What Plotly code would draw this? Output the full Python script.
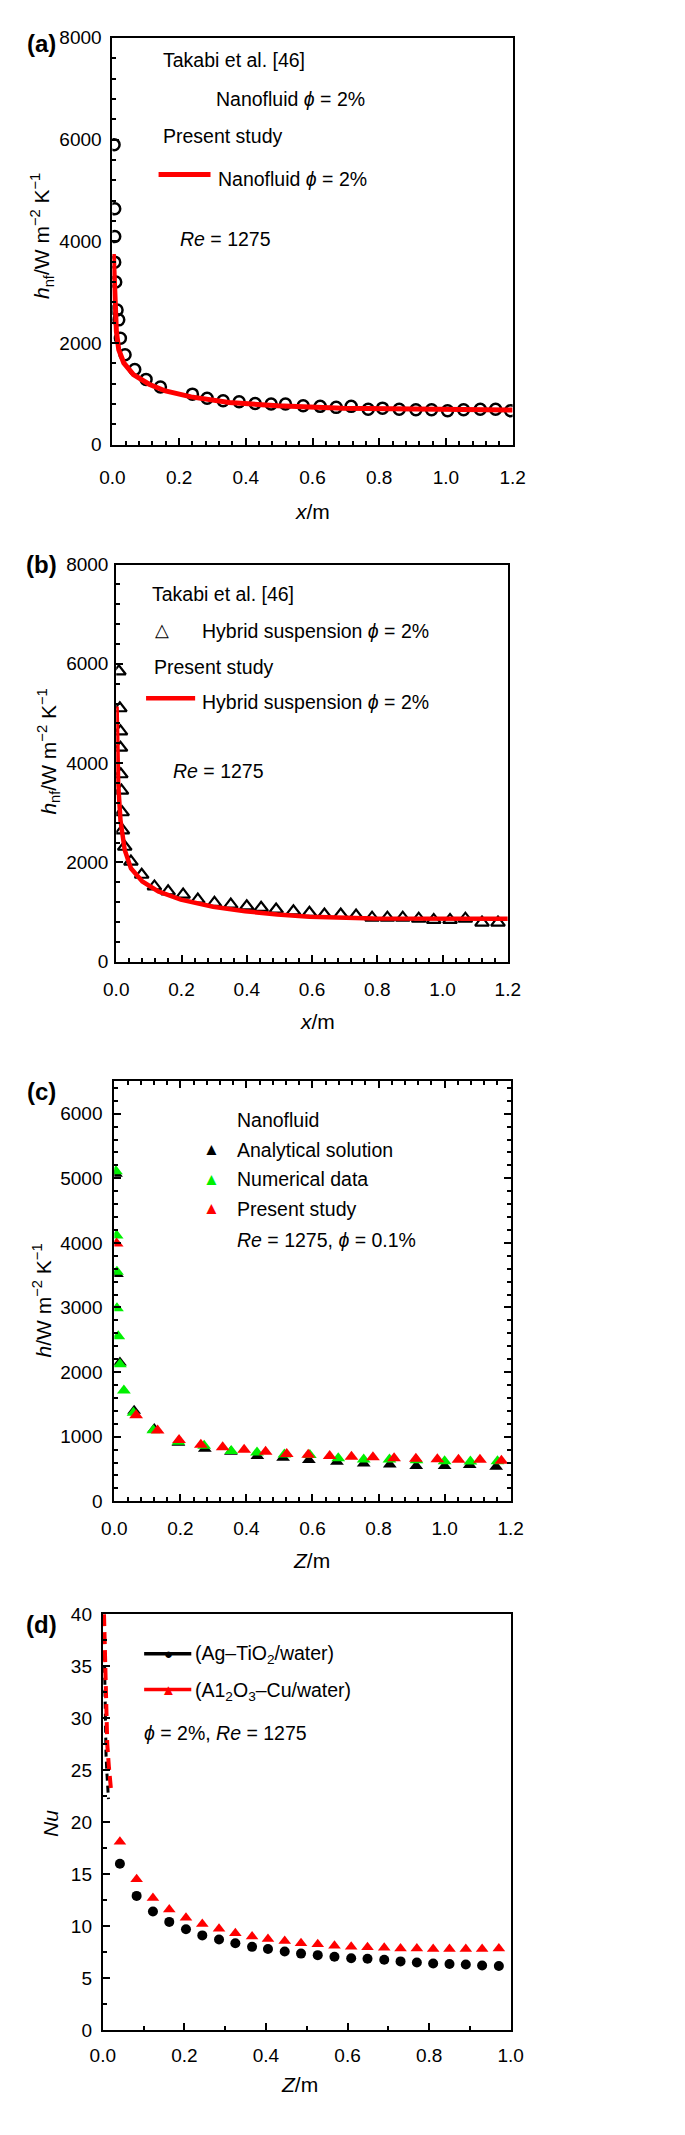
import plotly.graph_objects as go

W, H = 685, 2135
FONT = "Liberation Sans, Arial, sans-serif"
RED = "#ff0000"
GREEN = "#00f000"

# ---------- (a) nanofluid, phi = 2 % ----------
a_ref_x = [0.005, 0.007, 0.007, 0.007, 0.010, 0.014, 0.019, 0.024, 0.038, 0.067,
           0.101, 0.144, 0.240, 0.284, 0.332, 0.380, 0.428, 0.476, 0.519, 0.572,
           0.623, 0.671, 0.716, 0.767, 0.810, 0.860, 0.910, 0.957, 1.005, 1.053,
           1.103, 1.149, 1.194]
a_ref_y = [5900, 4640, 4095, 3590, 3200, 2650, 2455, 2095, 1770, 1480,
           1285, 1135, 995, 915, 865, 845, 810, 800, 800, 765,
           755, 735, 755, 700, 720, 700, 690, 690, 670, 690,
           700, 700, 670]
a_cur_x = [0.003, 0.005, 0.007, 0.012, 0.019, 0.034, 0.063, 0.110, 0.159, 0.236,
           0.350, 0.495, 0.690, 0.880, 1.200]
a_cur_y = [3750, 3200, 2680, 2225, 1870, 1610, 1380, 1190, 1058, 941,
           831, 766, 720, 701, 681]

# ---------- (b) hybrid suspension, phi = 2 % ----------
b_ref_x = [0.008, 0.011, 0.013, 0.013, 0.014, 0.016, 0.018, 0.019, 0.026, 0.045,
           0.078, 0.117, 0.159, 0.205, 0.250, 0.301, 0.351, 0.400, 0.444, 0.490,
           0.543, 0.592, 0.638, 0.688, 0.735, 0.784, 0.831, 0.878, 0.927, 0.973,
           1.023, 1.070, 1.121, 1.170]
b_ref_y = [5850, 5105, 4640, 4310, 3775, 3445, 3010, 2645, 2315, 2015,
           1750, 1515, 1415, 1350, 1250, 1185, 1150, 1115, 1085, 1050,
           1015, 985, 950, 950, 930, 885, 885, 885, 865, 840,
           840, 865, 785, 785]
b_cur_x = [0.001, 0.003, 0.006, 0.013, 0.026, 0.045, 0.080, 0.129, 0.198, 0.297,
           0.395, 0.494, 0.592, 0.789, 0.986, 1.200]
b_cur_y = [5140, 4375, 3580, 2845, 2250, 1880, 1615, 1415, 1250, 1105,
           1015, 950, 905, 870, 865, 865]

# ---------- (c) analytical / numerical / present, phi = 0.1 % ----------
c_ana_x = [0.005, 0.008, 0.017, 0.060, 0.121, 0.194, 0.274, 0.353, 0.433, 0.511,
           0.589, 0.674, 0.755, 0.834, 0.914, 1.000, 1.076, 1.156]
c_ana_y = [5070, 3520, 2150, 1400, 1120, 905, 815, 765, 700, 675,
           640, 610, 585, 570, 545, 545, 560, 535]
c_num_x = [0.005, 0.007, 0.008, 0.008, 0.012, 0.017, 0.029, 0.058, 0.118, 0.194,
           0.272, 0.354, 0.432, 0.515, 0.592, 0.678, 0.755, 0.833, 0.915, 1.000,
           1.078, 1.160]
c_num_y = [5110, 4115, 3555, 2990, 2555, 2120, 1715, 1370, 1100, 920,
           860, 780, 755, 725, 715, 665, 645, 645, 635, 620,
           615, 618]
c_pre_x = [0.007, 0.066, 0.131, 0.196, 0.262, 0.328, 0.393, 0.458, 0.522, 0.587,
           0.652, 0.718, 0.783, 0.847, 0.913, 0.978, 1.042, 1.107, 1.172]
c_pre_y = [3990, 1330, 1095, 950, 875, 838, 798, 767, 731, 720,
           700, 690, 680, 665, 660, 649, 644, 644, 629]

# ---------- (d) Nusselt number ----------
d_ag_x0 = [0.004, 0.005, 0.006, 0.008, 0.010, 0.014]
d_ag_y0 = [36.2, 33.0, 30.0, 26.5, 24.8, 22.2]
d_al_x0 = [0.003, 0.006, 0.009, 0.011, 0.015, 0.020]
d_al_y0 = [40.0, 33.5, 29.5, 27.5, 25.3, 23.2]
d_x = [0.042, 0.083, 0.123, 0.163, 0.204, 0.244, 0.285, 0.325, 0.366, 0.405,
       0.446, 0.486, 0.527, 0.568, 0.609, 0.649, 0.690, 0.730, 0.770, 0.810,
       0.850, 0.890, 0.930, 0.971]
d_ag_y = [16.0, 12.9, 11.4, 10.4, 9.7, 9.1, 8.7, 8.35, 8.0, 7.8,
          7.55, 7.35, 7.2, 7.05, 6.9, 6.85, 6.75, 6.6, 6.5, 6.4,
          6.35, 6.3, 6.2, 6.15]
d_al_y = [18.1, 14.5, 12.7, 11.6, 10.8, 10.2, 9.75, 9.3, 9.0, 8.75,
          8.55, 8.35, 8.25, 8.1, 8.0, 7.95, 7.9, 7.85, 7.85, 7.8,
          7.8, 7.8, 7.8, 7.85]


def px(x):
    return x / W


def py(y):
    return 1 - y / H


fig = go.Figure()

# (a)
fig.add_trace(go.Scatter(x=a_ref_x, y=a_ref_y, mode="markers", xaxis="x", yaxis="y",
                         marker=dict(symbol="circle-open", size=11, color="black",
                                     line=dict(width=2.5, color="black"))))
fig.add_trace(go.Scatter(x=a_cur_x, y=a_cur_y, mode="lines", xaxis="x", yaxis="y",
                         line=dict(color=RED, width=5)))

# (b)
fig.add_trace(go.Scatter(x=b_ref_x, y=b_ref_y, mode="markers", xaxis="x2", yaxis="y2",
                         marker=dict(symbol="triangle-up-open", size=12, color="black",
                                     line=dict(width=2.2, color="black"))))
fig.add_trace(go.Scatter(x=b_cur_x, y=b_cur_y, mode="lines", xaxis="x2", yaxis="y2",
                         line=dict(color=RED, width=4.5)))

# (c)
for xs, ys, col in [(c_ana_x, c_ana_y, "black"), (c_num_x, c_num_y, GREEN),
                    (c_pre_x, c_pre_y, RED)]:
    fig.add_trace(go.Scatter(x=xs, y=ys, mode="markers", xaxis="x3", yaxis="y3",
                             marker=dict(symbol="triangle-up", size=12, color=col)))

# (d)
fig.add_trace(go.Scatter(x=d_ag_x0, y=d_ag_y0, mode="lines", xaxis="x4", yaxis="y4",
                         line=dict(color="black", width=3, dash="7px,5px")))
fig.add_trace(go.Scatter(x=d_al_x0, y=d_al_y0, mode="lines", xaxis="x4", yaxis="y4",
                         line=dict(color=RED, width=4, dash="12px,6px")))
fig.add_trace(go.Scatter(x=d_x, y=d_ag_y, mode="markers", xaxis="x4", yaxis="y4",
                         marker=dict(symbol="circle", size=10, color="black")))
fig.add_trace(go.Scatter(x=d_x, y=d_al_y, mode="markers", xaxis="x4", yaxis="y4",
                         marker=dict(symbol="triangle-up", size=11, color=RED)))


def axis(dom, rng, dtick, minor, standoff, fmt=None, mirror=True):
    d = dict(domain=dom, range=rng, dtick=dtick, tick0=0, ticks="inside", ticklen=7,
             tickwidth=1.5, tickcolor="black", showline=True, linecolor="black",
             linewidth=2, mirror=mirror, showgrid=False, zeroline=False,
             ticklabelstandoff=standoff,
             tickfont=dict(family=FONT, size=19, color="black"),
             minor=dict(dtick=minor, ticks="inside", ticklen=4, tickwidth=1.5,
                        tickcolor="black", showgrid=False))
    if fmt:
        d["tickformat"] = fmt
    return d


panels = [
    # x px, y px, x range, y range, y dtick, y minor, x dtick, x minor, mirror, x/y label gaps
    ((95, 511), (20, 431), [0, 1.2], [0, 8000], 2000, 400, 0.2, 0.04, True, 14, 5),
    ((99, 506), (552, 953), [0, 1.2], [0, 8000], 2000, 400, 0.2, 0.04, True, 10, 2),
    ((97, 509), (1074, 1498), [0, 1.2], [0, 6500], 1000, 200, 0.2, 0.04, "ticks", 9, 6),
    ((85, 509), (1612, 2032), [0, 1.0], [0, 40], 5, 2.5, 0.2, 0.1, True, 7, 5),
]
layout_axes = {}
for i, (xp, yp, xr, yr, ydt, ymn, xdt, xmn, mir, xso, yso) in enumerate(panels):
    s = "" if i == 0 else str(i + 1)
    xa = axis([px(xp[0]), px(xp[1])], xr, xdt, xmn, xso, ".1f", mir)
    xa["anchor"] = "y" + s
    ya = axis([py(yp[1]), py(yp[0])], yr, ydt, ymn, yso, None, mir)
    ya["anchor"] = "x" + s
    layout_axes["xaxis" + s] = xa
    layout_axes["yaxis" + s] = ya

ann = []


def text(t, x, y, size=19.5, xanchor="left", angle=0, color="black"):
    ann.append(dict(text=t, x=px(x), y=py(y), xref="paper", yref="paper",
                    xanchor=xanchor, yanchor="middle", showarrow=False, textangle=angle,
                    font=dict(family=FONT, size=size, color=color)))


# panel letters
for lab, y in [("(a)", 26), ("(b)", 552), ("(c)", 1084), ("(d)", 1622)]:
    text("<b>%s</b>" % lab, 21, y, size=24, xanchor="center")

# axis titles
text("<i>h</i><sub>nf</sub>/W m<sup>−2</sup> K<sup>−1</sup>", 22, 220, size=21, xanchor="center", angle=-90)
text("<i>h</i><sub>nf</sub>/W m<sup>−2</sup> K<sup>−1</sup>", 29, 741, size=21, xanchor="center", angle=-90)
text("<i>h</i>/W m<sup>−2</sup> K<sup>−1</sup>", 22, 1295, size=21, xanchor="center", angle=-90)
text("<i>Nu</i>", 30, 1823, size=21, xanchor="center", angle=-90)
text("<i>x</i>/m", 303, 498, size=21, xanchor="center")
text("<i>x</i>/m", 308, 1013, size=21, xanchor="center")
text("<i>Z</i>/m", 302, 1558, size=21, xanchor="center")
text("<i>Z</i>/m", 290, 2087, size=21, xanchor="center")

# (a) legend
text("Takabi et al. [46]", 146, 42)
text("Nanofluid <i>ϕ</i> = 2%", 201, 82)
text("Present study", 146, 119)
text("Nanofluid <i>ϕ</i> = 2%", 203, 163)
text("<i>Re</i> = 1275", 163, 223)

# (b) legend
text("Takabi et al. [46]", 134, 582)
text("△", 147, 618, size=18, xanchor="center")
text("Hybrid suspension <i>ϕ</i> = 2%", 186, 619)
text("Present study", 136, 655)
text("Hybrid suspension <i>ϕ</i> = 2%", 186, 691)
text("<i>Re</i> = 1275", 156, 760)

# (c) legend
text("Nanofluid", 222, 1113)
text("▲", 198, 1143, size=17, xanchor="center")
text("Analytical solution", 222, 1143)
text("▲", 198, 1173, size=17, xanchor="center", color=GREEN)
text("Numerical data", 222, 1173)
text("▲", 198, 1202, size=17, xanchor="center", color=RED)
text("Present study", 222, 1203)
text("<i>Re</i> = 1275, <i>ϕ</i> = 0.1%", 222, 1234)

# (d) legend
text("●", 153, 1652, size=15, xanchor="center")
text("(Ag–TiO<sub>2</sub>/water)", 179, 1653)
text("▲", 153, 1688, size=15, xanchor="center", color=RED)
text("(A1<sub>2</sub>O<sub>3</sub>–Cu/water)", 179, 1690)
text("<i>ϕ</i> = 2%, <i>Re</i> = 1275", 126, 1732)

shapes = [
    dict(type="line", xref="paper", yref="paper", x0=px(143), x1=px(197), y0=py(158), y1=py(158),
         line=dict(color=RED, width=5)),
    dict(type="line", xref="paper", yref="paper", x0=px(130), x1=px(181), y0=py(687), y1=py(687),
         line=dict(color=RED, width=4.5)),
    dict(type="line", xref="paper", yref="paper", x0=px(128), x1=px(177), y0=py(1652), y1=py(1652),
         line=dict(color="black", width=3.5)),
    dict(type="line", xref="paper", yref="paper", x0=px(128), x1=px(177), y0=py(1688), y1=py(1688),
         line=dict(color=RED, width=3.5)),
]

fig.update_layout(
    width=W, height=H,
    margin=dict(l=0, r=0, t=0, b=0),
    paper_bgcolor="white", plot_bgcolor="white",
    showlegend=False,
    annotations=ann,
    shapes=shapes,
    font=dict(family=FONT, color="black"),
    **layout_axes,
)

fig.write_html("out.html")
